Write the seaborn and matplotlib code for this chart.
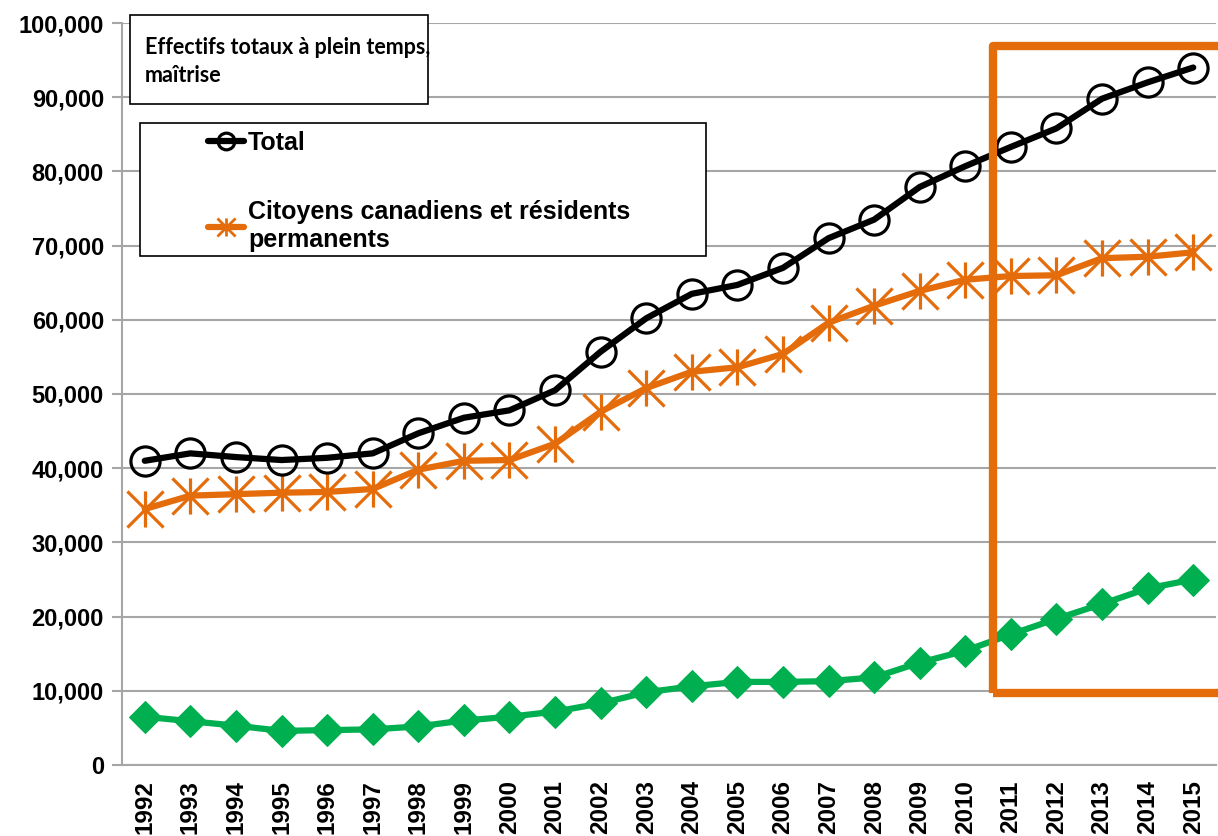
# Effectifs totaux à plein temps, maîtrise - line chart recreation

import numpy as np
import pandas as pd
import matplotlib
matplotlib.use("Agg")
import matplotlib.pyplot as plt
from matplotlib.patches import Rectangle
from matplotlib.path import Path
from matplotlib.lines import Line2D
import seaborn as sns

# -------------------------------
# 1. Data
# -------------------------------
years = list(range(1992, 2016))
total = [41000, 42000, 41500, 41100, 41400, 42000, 44700, 46800, 47800, 50500,
         55700, 60200, 63500, 64700, 67000, 71000, 73500, 77900, 80700, 83300,
         85800, 89800, 92000, 94000]
citoyens = [34500, 36300, 36500, 36700, 36800, 37200, 39800, 41000, 41100, 43300,
            47600, 50800, 53000, 53600, 55400, 59600, 61900, 63900, 65400, 65900,
            66000, 68300, 68500, 69100]
etrangers = [6500, 5900, 5300, 4600, 4700, 4800, 5200, 6000, 6500, 7200,
             8300, 9800, 10600, 11200, 11200, 11300, 11800, 13800, 15400, 17600,
             19700, 21700, 23800, 25000]
label_total = "Total"
label_citoyens = "Citoyens canadiens et résidents\npermanents"
box_title = "Effectifs totaux à plein temps,\nmaîtrise"

df = pd.DataFrame({"year": years, "total": total,
                   "citoyens": citoyens, "etrangers": etrangers})

BLACK = "#000000"
ORANGE = "#E46C0A"
GREEN = "#00B050"
GRID = "#A6A6A6"

# -------------------------------
# 2. Figure setup
# -------------------------------
sns.set_style("white")
plt.rcParams["font.family"] = ["Liberation Sans", "DejaVu Sans"]
plt.rcParams["text.color"] = "black"
plt.rcParams["xtick.labelcolor"] = "black"
plt.rcParams["ytick.labelcolor"] = "black"

fig = plt.figure(figsize=(12.18, 8.36), dpi=100)
ax = fig.add_axes([122 / 1218, 1 - 765 / 836, 1094 / 1218, 742 / 836])

# asterisk marker: vertical bar + X
star = Path([(0, -1), (0, 1), (-1, -1), (1, 1), (-1, 1), (1, -1)],
            [Path.MOVETO, Path.LINETO, Path.MOVETO, Path.LINETO, Path.MOVETO, Path.LINETO])

sns.lineplot(data=df, x="year", y="etrangers", ax=ax, color=GREEN, linewidth=4.5,
             marker="D", markersize=16, markeredgecolor=GREEN, markerfacecolor=GREEN,
             zorder=3)
sns.lineplot(data=df, x="year", y="citoyens", ax=ax, color=ORANGE, linewidth=4.5,
             marker=star, markersize=26, markeredgewidth=2.3, markeredgecolor=ORANGE,
             zorder=4)
sns.lineplot(data=df, x="year", y="total", ax=ax, color=BLACK, linewidth=4.5,
             marker="o", markersize=21, markeredgewidth=2.3, markeredgecolor=BLACK,
             markerfacecolor="none", zorder=5)

# -------------------------------
# 3. Axes styling
# -------------------------------
ax.set_xlim(1991.5, 2015.5)
ax.set_ylim(0, 100000)
ax.set_xlabel("")
ax.set_ylabel("")

ax.set_yticks(np.arange(0, 100001, 10000))
ax.set_yticklabels([f"{v:,}" for v in range(0, 100001, 10000)],
                   fontsize=17, fontweight="bold")
ax.set_xticks(years)
ax.set_xticklabels([str(y) for y in years], rotation=90, fontsize=17.5,
                   fontweight="bold", va="top")
ax.set_xticks(np.arange(1991.5, 2016, 1), minor=True)
ax.tick_params(axis="x", which="major", length=0, pad=11)
ax.tick_params(axis="x", which="minor", length=8, width=1.5, color=GRID, direction="out")
ax.tick_params(axis="y", which="major", length=7, width=1.5, color=GRID, pad=6, left=True)

ax.yaxis.grid(True, color=GRID, linewidth=1.5)
ax.set_axisbelow(True)
for side in ["top", "right"]:
    ax.spines[side].set_visible(False)
for side in ["left", "bottom"]:
    ax.spines[side].set_color(GRID)
    ax.spines[side].set_linewidth(1.5)

# orange highlight frame (open to the right)
ax.add_patch(Rectangle((0.796, 0.097), 0.3, 0.872, transform=ax.transAxes,
                       fill=False, edgecolor=ORANGE, linewidth=6,
                       joinstyle="round", clip_on=False, zorder=6))

# -------------------------------
# 4. Title box and legend
# -------------------------------
fig.patches.append(Rectangle((130 / 1218, 1 - 104 / 836), 298 / 1218, 89 / 836,
                             transform=fig.transFigure, fill=True, facecolor="white",
                             edgecolor=BLACK, linewidth=1.2, zorder=10))
fig.text(145 / 1218, 1 - 37 / 836, box_title, fontsize=15.5, fontweight="bold",
         family=["Lato", "DejaVu Sans"], va="top", ha="left", linespacing=1.4,
         zorder=11)

ax.add_patch(Rectangle((18 / 1094, (765 - 256) / 742), 566 / 1094, 133 / 742,
                       transform=ax.transAxes, facecolor="white", edgecolor=BLACK,
                       linewidth=1.2, clip_on=False, zorder=7))

handles = [
    Line2D([], [], color=BLACK, linewidth=4.5, marker="o", markersize=12,
           markerfacecolor="none", markeredgewidth=2.3),
    Line2D([], [], color=ORANGE, linewidth=4.5, marker=star, markersize=13,
           markeredgewidth=2),
]
leg = ax.legend(handles, [label_total, label_citoyens], loc="upper left",
                bbox_to_anchor=((208 - 122) / 1094, (765 - 131) / 742),
                frameon=False, handlelength=1.45, handletextpad=0.15,
                labelspacing=1.8, borderpad=0, borderaxespad=0,
                prop={"weight": "bold", "size": 18})
leg.set_zorder(8)

fig.savefig("out.png", dpi=100)
